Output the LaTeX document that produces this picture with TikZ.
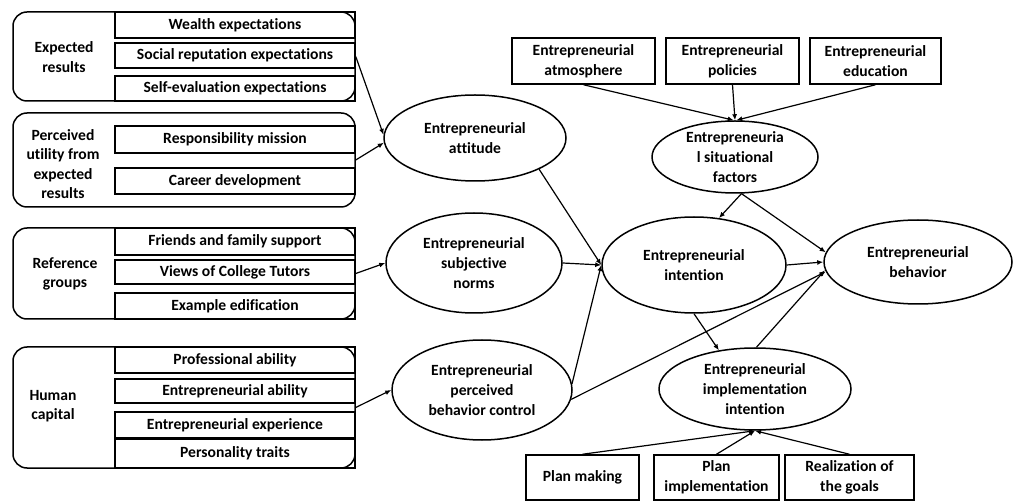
\documentclass[tikz,border=0pt]{standalone}
\usepackage{fontspec}
\setmainfont{Carlito}[Ligatures=NoCommon]
\usetikzlibrary{shapes.geometric,arrows.meta}
\begin{document}
\begin{tikzpicture}[x=1pt,y=-1pt,
  font=\fontsize{15.6}{19.6}\selectfont\bfseries,
  line width=1.5pt,
  grp/.style={draw,rounded corners=14pt,inner sep=0pt,minimum width=342pt},
  item/.style={draw,inner sep=0pt,align=center,minimum width=240pt},
  box/.style={draw,inner sep=0pt,align=center},
  oval/.style={draw,ellipse,inner sep=0pt,align=center},
  lbl/.style={align=center,inner sep=0pt},
  arr/.style={-{Latex[length=6pt,width=5pt]},line width=1.2pt},
]
\useasboundingbox[fill=white] (0,0) rectangle (1020,502);

% ---- left-hand groups of antecedents ----
\node[grp,minimum height=89pt] (g1) at (184,56.5) {};
\node[item,minimum height=26pt] (g1a) at (235,25) {Wealth expectations};
\node[item,minimum height=25pt] (g1b) at (235,55.5) {Social reputation expectations};
\node[item,minimum height=25pt] (g1c) at (235,88.5) {Self-evaluation expectations};
\node[lbl] (g1l) at (64,57) {Expected\\results};

\node[grp,minimum height=94pt] (g2) at (184,160) {};
\node[item,minimum height=27pt] (g2a) at (235,139.5) {Responsibility mission};
\node[item,minimum height=26pt] (g2b) at (235,181) {Career development};
\node[lbl] (g2l) at (63,164) {Perceived\\utility from\\expected\\results};

\node[grp,minimum height=91pt] (g3) at (184,273.5) {};
\node[item,minimum height=27pt] (g3a) at (235,241.5) {Friends and family support};
\node[item,minimum height=24pt] (g3b) at (235,272) {Views of College Tutors};
\node[item,minimum height=26pt] (g3c) at (235,306) {Example edification};
\node[lbl] (g3l) at (65,274) {Reference\\groups};

\node[grp,minimum height=121pt] (g4) at (184,407.5) {};
\node[item,minimum height=26pt] (g4a) at (235,360) {Professional ability};
\node[item,minimum height=24pt] (g4b) at (235,391) {Entrepreneurial ability};
\node[item,minimum height=26pt] (g4c) at (235,425) {Entrepreneurial experience};
\node[item,minimum height=29pt] (g4d) at (235,453.5) {Personality traits};
\node[lbl] (g4l) at (53,406) {Human\\capital};

% ---- latent constructs ----
\node[oval,minimum width=182pt,minimum height=86pt] (att) at (475,138) {Entrepreneurial\\attitude};
\node[oval,minimum width=176pt,minimum height=100pt] (norm) at (474,263) {Entrepreneurial\\subjective\\norms};
\node[oval,minimum width=180pt,minimum height=100pt] (pbc) at (482,390) {Entrepreneurial\\perceived\\behavior control};
\node[oval,minimum width=184pt,minimum height=96pt] (int) at (694,265) {Entrepreneurial\\intention};
\node[oval,minimum width=188pt,minimum height=84pt] (beh) at (918,262) {Entrepreneurial\\behavior};
\node[oval,minimum width=192pt,minimum height=82pt] (impl) at (755,389) {Entrepreneurial\\implementation\\intention};
\node[oval,minimum width=166pt,minimum height=72pt] (sit) at (735,157) {Entrepreneuria\\l situational\\factors};

% ---- situational factors ----
\node[box,minimum width=143pt,minimum height=46pt] (atm) at (583.5,61) {Entrepreneurial\\atmosphere};
\node[box,minimum width=133pt,minimum height=46pt] (pol) at (732.5,61) {Entrepreneurial\\policies};
\node[box,minimum width=131pt,minimum height=46pt] (edu) at (875.5,61) {Entrepreneurial\\education};

% ---- implementation components ----
\node[box,minimum width=113pt,minimum height=45pt] (pm) at (582.5,477.5) {Plan making};
\node[box,minimum width=125pt,minimum height=45pt] (pi) at (716.5,477.5) {Plan\\implementation};
\node[box,minimum width=129pt,minimum height=45pt] (rg) at (849.5,477.5) {Realization of\\the goals};

% ---- paths ----
\draw[arr] (g1.east) -- (att.178);
\draw[arr] (g2.east) -- (att.183);
\draw[arr] (g3.east) -- (norm.west);
\draw[arr] (g4.east) -- (pbc.west);

\draw[arr] (att.-26) -- (int.west);
\draw[arr] (norm.east) -- (int.west);
\draw[arr] (pbc.4) -- (int.west);
\draw[arr] (pbc.-6) -- (beh.186);

\draw[arr] (atm.south) -- (sit.92);
\draw[arr] (pol.south) -- (sit.north);
\draw[arr] (edu.south) -- (sit.88);

\draw[arr] (sit.-80) -- (int.62);
\draw[arr] (sit.-80) -- (beh.174);

\draw[arr] (int.east) -- (beh.west);
\draw[arr] (int.south) -- (impl.133);
\draw[arr] (impl.88) -- (beh.185);

\draw[arr] (pm.north) -- (impl.south);
\draw[arr] (pi.north) -- (impl.south);
\draw[arr] (rg.north) -- (impl.south);
\end{tikzpicture}
\end{document}
